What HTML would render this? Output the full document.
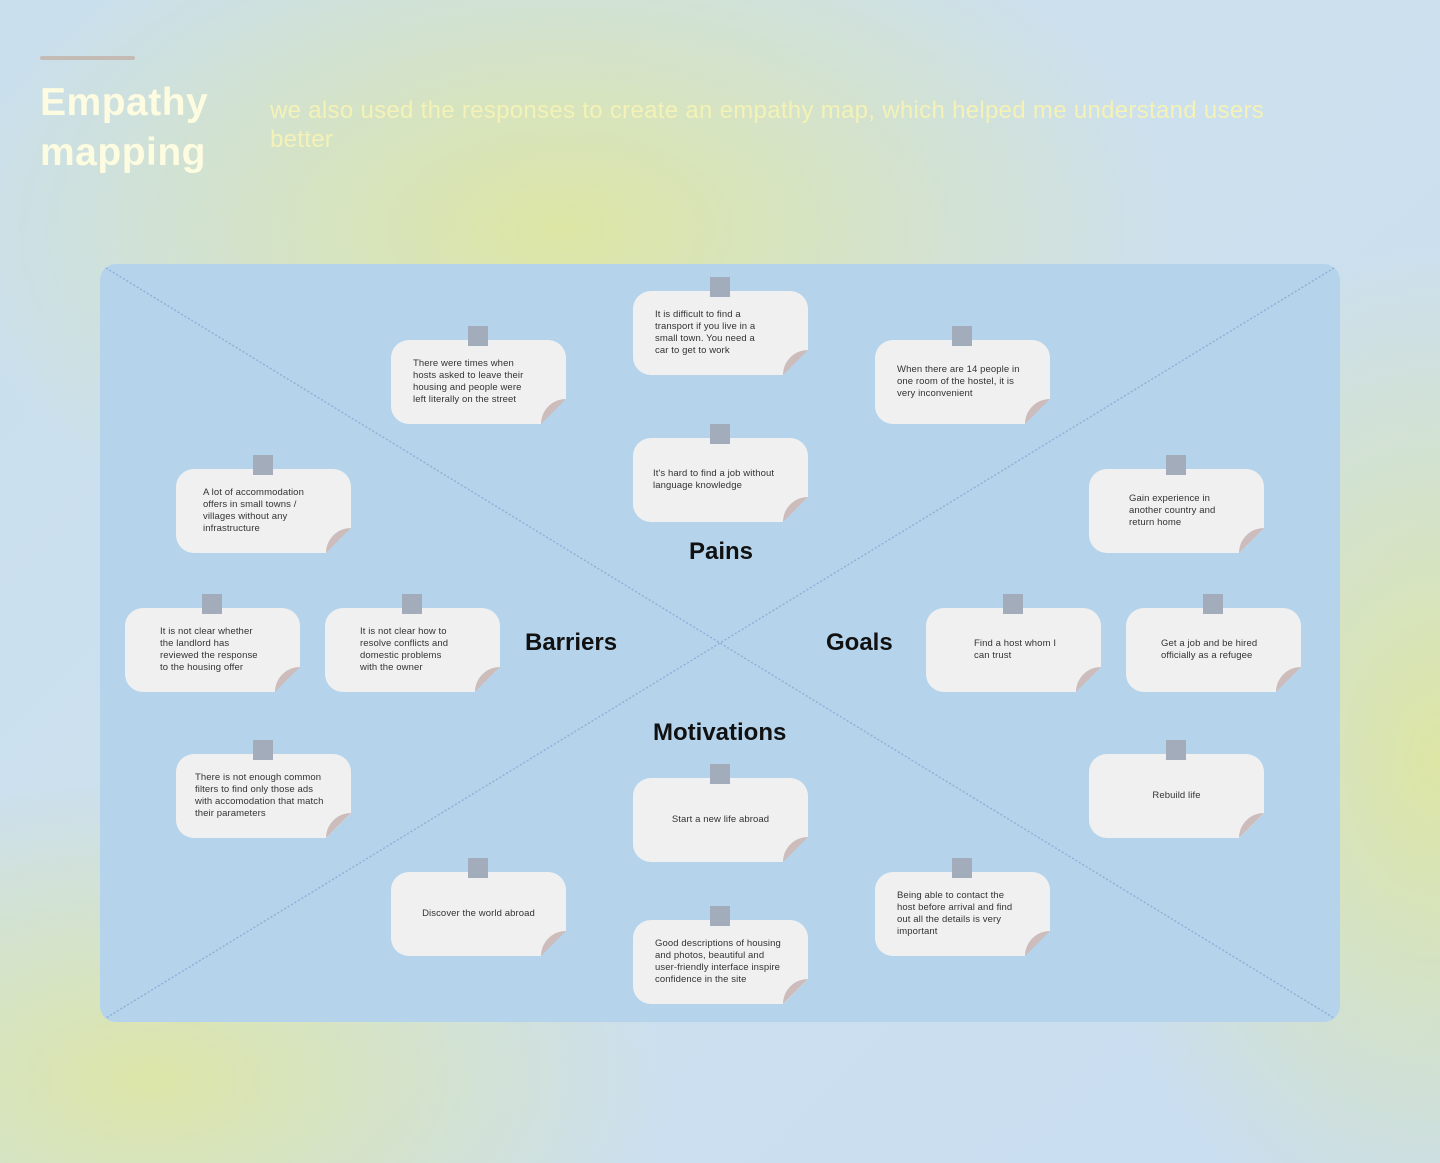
<!DOCTYPE html>
<html><head><meta charset="utf-8"><style>
*{margin:0;padding:0;box-sizing:border-box}
body{width:1440px;height:1163px;position:relative;overflow:hidden;font-family:"Liberation Sans",sans-serif;
background:
radial-gradient(ellipse 620px 360px at 560px 230px,rgba(222,230,160,0.95),rgba(222,230,160,0) 100%),
radial-gradient(ellipse 360px 520px at 1440px 760px,rgba(222,230,160,0.95),rgba(222,230,160,0) 100%),
radial-gradient(ellipse 520px 300px at 150px 1080px,rgba(222,230,160,0.9),rgba(222,230,160,0) 100%),
linear-gradient(135deg,#c9dfee,#cde0ee 50%,#c8ddf2);}
.bar{position:absolute;left:40px;top:56px;width:95px;height:4px;border-radius:2px;background:#c4bcb4}
h1{position:absolute;left:40px;top:78px;font-size:39px;line-height:50px;color:#fdfbe0;font-weight:bold;letter-spacing:0.5px}
.sub{position:absolute;left:270px;top:96px;width:1010px;font-size:24px;line-height:29px;color:#f4f2b6;letter-spacing:0.3px}
.board{position:absolute;left:100px;top:264px;width:1240px;height:758px;border-radius:16px;background:#b5d4ec;overflow:hidden}
.card{position:absolute;width:175px;height:84px;background:#f0f0f0;border-radius:18px 18px 0 18px;font-size:9.5px;line-height:12px;color:#333;padding:0 40px 0 22px;display:flex;align-items:center;letter-spacing:0.1px}
.card.c{justify-content:center;text-align:center}
.card:after{content:"";position:absolute;right:0;bottom:0;width:25px;height:25px;background:linear-gradient(135deg,transparent 50%,#b5d4ec 50%)}
.card .curl{position:absolute;right:0;bottom:0;width:25px;height:25px;background:#cdbcbc;border-radius:25px 0 0 0;clip-path:polygon(0 100%,100% 0,0 0);z-index:1}
.tape{position:absolute;width:20px;height:20px;background:#a3acbb;left:77px;top:-14px;z-index:2}
.lab{position:absolute;font-size:24px;font-weight:bold;color:#111}
</style></head><body>
<div class="bar"></div>
<h1>Empathy<br>mapping</h1>
<div class="sub">we also used the responses to create an empathy map, which helped me understand users better</div>
<div class="board">
<svg width="1240" height="758" style="position:absolute;left:0;top:0"><g stroke="#8fb0d8" stroke-width="1.5" stroke-dasharray="2 2"><line x1="6" y1="4" x2="1234" y2="754"/><line x1="1234" y1="4" x2="6" y2="754"/></g></svg>
</div>
<div class="lab" style="left:689px;top:538px">Pains</div>
<div class="lab" style="left:525px;top:629px">Barriers</div>
<div class="lab" style="left:826px;top:629px">Goals</div>
<div class="lab" style="left:653px;top:719px">Motivations</div>

<div class="card" style="left:633px;top:291px"><div class="tape"></div>It is difficult to find a transport if you live in a small town. You need a car to get to work<div class="curl"></div></div>
<div class="card" style="left:391px;top:340px;padding-right:30px"><div class="tape"></div>There were times when hosts asked to leave their housing and people were left literally on the street<div class="curl"></div></div>
<div class="card" style="left:875px;top:340px;padding-right:30px"><div class="tape"></div>When there are 14 people in one room of the hostel, it is very inconvenient<div class="curl"></div></div>
<div class="card" style="left:633px;top:438px;padding-left:20px;padding-right:30px"><div class="tape"></div>It's hard to find a job without language knowledge<div class="curl"></div></div>
<div class="card" style="left:176px;top:469px;padding-left:27px;padding-right:34px"><div class="tape"></div>A lot of accommodation offers in small towns / villages without any infrastructure<div class="curl"></div></div>
<div class="card" style="left:1089px;top:469px;padding-left:40px;padding-right:36px"><div class="tape"></div>Gain experience in another country and return home<div class="curl"></div></div>
<div class="card" style="left:125px;top:608px;padding-left:35px;padding-right:34px"><div class="tape"></div>It is not clear whether the landlord has reviewed the response to the housing offer<div class="curl"></div></div>
<div class="card" style="left:325px;top:608px;padding-left:35px;padding-right:40px"><div class="tape"></div>It is not clear how to resolve conflicts and domestic problems with the owner<div class="curl"></div></div>
<div class="card" style="left:926px;top:608px;padding-left:48px;padding-right:38px"><div class="tape"></div>Find a host whom I can trust<div class="curl"></div></div>
<div class="card" style="left:1126px;top:608px;padding-left:35px;padding-right:30px"><div class="tape"></div>Get a job and be hired officially as a refugee<div class="curl"></div></div>
<div class="card" style="left:176px;top:754px;padding-left:19px;padding-right:22px"><div class="tape"></div>There is not enough common filters to find only those ads with accomodation that match their parameters<div class="curl"></div></div>
<div class="card c" style="left:1089px;top:754px;padding:0"><div class="tape"></div>Rebuild life<div class="curl"></div></div>
<div class="card c" style="left:633px;top:778px;padding:0"><div class="tape"></div>Start a new life abroad<div class="curl"></div></div>
<div class="card c" style="left:391px;top:872px;padding:0"><div class="tape"></div>Discover the world abroad<div class="curl"></div></div>
<div class="card" style="left:875px;top:872px;padding-right:30px"><div class="tape"></div>Being able to contact the host before arrival and find out all the details is very important<div class="curl"></div></div>
<div class="card" style="left:633px;top:920px;padding-right:24px"><div class="tape"></div>Good descriptions of housing and photos, beautiful and user-friendly interface inspire confidence in the site<div class="curl"></div></div>
</body></html>
